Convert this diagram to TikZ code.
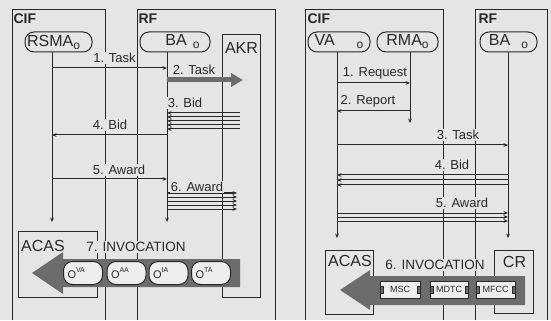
\documentclass[tikz,border=0pt]{standalone}
\usepackage{fontspec}
\setmainfont{Liberation Sans}
\usepackage{xcolor}
\usepackage{tikz}
\usetikzlibrary{arrows.meta}
\definecolor{papel}{RGB}{229,229,227}
\definecolor{tinta}{RGB}{40,40,40}
\definecolor{flecha}{RGB}{108,108,108}
\definecolor{hueco}{RGB}{238,238,236}
\newcommand{\puerto}{\raisebox{-3pt}{\fontsize{12}{12}\selectfont o}}
\newcommand{\etiq}[1]{O\raisebox{6.5pt}{\fontsize{7}{7}\selectfont #1}}
\tikzset{
  agente/.style={draw=tinta, rounded corners=9pt, minimum height=20pt, inner sep=2pt, font=\fontsize{16}{16}\selectfont},
  caja/.style={font=\fontsize{16}{16}\selectfont, inner sep=1pt},
  msg/.style={font=\fontsize{13}{13}\selectfont, fill=papel, inner xsep=1pt, inner ysep=1.5pt},
  titulo/.style={font=\fontsize{14}{14}\selectfont\bfseries, anchor=north west, inner sep=1pt},
  pildora/.style={draw=tinta, fill=hueco, rounded corners=9pt, minimum height=23pt, text width=31pt, align=left, inner xsep=4pt, inner ysep=0pt, font=\fontsize{11}{11}\selectfont},
  pieza/.style={draw=tinta, fill=hueco, minimum height=17pt, inner sep=0pt, font=\fontsize{9}{9}\selectfont,
    path picture={
      \filldraw[fill=flecha, draw=tinta, line width=0.5pt] ([yshift=3.5pt]path picture bounding box.west) rectangle ([xshift=3pt,yshift=-3.5pt]path picture bounding box.west);
      \filldraw[fill=flecha, draw=tinta, line width=0.5pt] ([yshift=3.5pt]path picture bounding box.east) rectangle ([xshift=-3pt,yshift=-3.5pt]path picture bounding box.east);
    }},
}

\begin{document}
\begin{tikzpicture}[x=1pt, y=-1pt, >={Stealth[length=4.5pt,width=3.8pt]}, line width=1pt, draw=tinta, text=tinta]
    \fill[papel] (0,0) rectangle (551,320);
    % ===== izquierda: CIF / RF / AKR =====
    \draw (12,320) |- (105,10) -- (105,320);
    \draw (137,320) |- (275,10) -- (275,320);
    \node[titulo] (cifL) at (12,12) {CIF};
    \node[titulo] (rfL) at (137,12) {RF};
    \node[agente, minimum width=67pt] (rsma) at (58.5,42) {\hspace*{-10pt}RSMA\puerto};
    \node[agente, minimum width=70pt] (ba) at (175,42) {\hspace*{15pt}BA\hspace{6pt}\puerto};
    \draw (222,35) rectangle (260,297);
    \node[caja] (akr) at (241.5,47.5) {AKR};
    \coordinate (lR) at (52,52);
    \coordinate (lB) at (167,52);
    \draw[->] (lR) -- ++(0,170);
    \draw[->] (lB) -- ++(0,170);
    % 1. Task
    \draw[->] (lR |- 0,68) -- (lB |- 0,68);
    \node[msg] (m1) at (114.5,58) {1. Task};
    % 2. Task (gruesa)
    \draw[line width=5pt, flecha, -{Triangle[length=12pt,width=13pt]}] (lB |- 0,80) -- (243,80);
    \node[msg] (m2) at (194,70) {2. Task};
    % 3. Bid
    \foreach \y in {113,117,121,125,129}
        \draw[->] (240,\y) -- (lB |- 0,\y);
    \node[msg] (m3) at (185,103) {3. Bid};
    % 4. Bid
    \draw[->] (lB |- 0,135) -- (lR |- 0,135);
    \node[msg] (m4) at (110,125) {4. Bid};
    % 5. Award
    \draw[->] (lR |- 0,179) -- (lB |- 0,179);
    \node[msg] (m5) at (119,170) {5. Award};
    % 6. Award
    \foreach \y in {193,197,201,205,209}
        \draw[->] (lB |- 0,\y) -- (237,\y);
    \node[msg] (m6) at (197,187) {6. Award};
    % ACAS + 7. INVOCATION
    \draw (18,231) rectangle (97,297);
    \node[caja] (acasL) at (43,246) {ACAS};
    \node[msg, font=\fontsize{13.5}{13.5}\selectfont] (m7) at (136,247) {7. INVOCATION};
    \fill[flecha] (240,259) -- (63,259) -- (63,252) -- (32,273) -- (63,294) -- (63,287) -- (240,287) -- cycle;
    \node[pildora] (pVA) at (83,273) {\etiq{VA}};
    \node[pildora] (pAA) at (126.5,273) {\etiq{AA}};
    \node[pildora] (pIA) at (168.5,273) {\etiq{IA}};
    \node[pildora] (pTA) at (211,273) {\etiq{TA}};

    % ===== derecha: CIF / RF =====
    \draw (305,320) |- (443,10) -- (443,320);
    \draw (475,320) |- (547,10) -- (547,320);
    \node[titulo] (cifR) at (306,12) {CIF};
    \node[titulo] (rfR) at (477,12) {RF};
    \node[agente, minimum width=62pt] (va) at (339,42) {VA\hspace{22pt}\puerto};
    \node[agente, minimum width=61pt] (rma) at (407.5,42) {RMA\puerto};
    \node[agente, minimum width=57pt] (baR) at (508.5,42) {BA\hspace{11pt}\puerto};
    \coordinate (lV) at (337,52);
    \coordinate (lM) at (410,52);
    \coordinate (lBR) at (508,52);
    \draw[->] (lV) -- ++(0,186);
    \draw[->] (lM) -- ++(0,71);
    \draw[->] (lBR) -- ++(0,186);
    % 1. Request / 2. Report
    \draw[->] (lV |- 0,83) -- (lM |- 0,83);
    \node[msg] (r1) at (375,73.5) {1. Request};
    \draw[->] (lM |- 0,111) -- (lV |- 0,111);
    \node[msg] (r2) at (368,101.5) {2. Report};
    % 3. Task
    \draw[->] (lV |- 0,145) -- (lBR |- 0,145);
    \node[msg] (r3) at (458,135) {3. Task};
    % 4. Bid
    \foreach \y in {175,180,185}
        \draw[->] (lBR |- 0,\y) -- (lV |- 0,\y);
    \node[msg] (r4) at (452,165) {4. Bid};
    % 5. Award
    \foreach \y in {213,217,221}
        \draw[->] (lV |- 0,\y) -- (lBR |- 0,\y);
    \node[msg] (r5) at (462,203) {5. Award};
    % ACAS, CR + 6. INVOCATION
    \draw (325,250) rectangle (373,314);
    \node[caja] (acasR) at (350,261) {ACAS};
    \draw (494,250) rectangle (533,313);
    \node[caja] (cr) at (514.5,262) {CR};
    \node[msg, font=\fontsize{13.5}{13.5}\selectfont] (r6) at (435,265) {6. INVOCATION};
    \fill[flecha] (525,276) -- (370,276) -- (370,270) -- (340,290) -- (370,310) -- (370,305) -- (525,305) -- cycle;
    \node[pieza, minimum width=40pt] (msc) at (400,289.5) {MSC};
    \node[pieza, minimum width=38pt] (mdtc) at (449,289.5) {MDTC};
    \node[pieza, minimum width=39pt] (mfcc) at (495.5,289.5) {MFCC};
\end{tikzpicture}
\end{document}
